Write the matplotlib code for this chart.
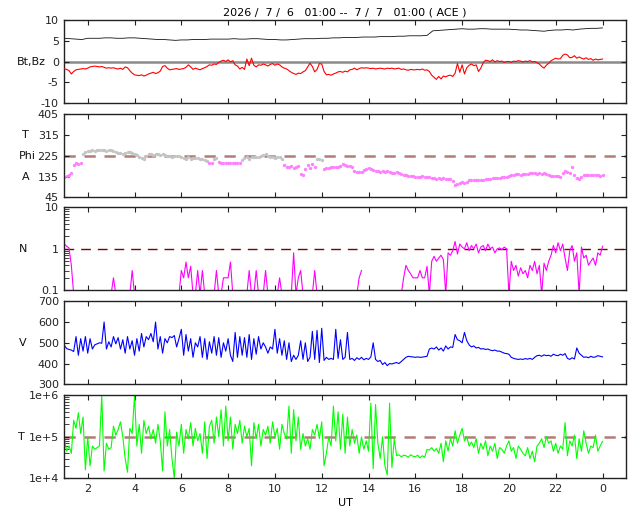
import matplotlib
matplotlib.use("Agg")
import matplotlib.pyplot as plt
import matplotlib.transforms as mtransforms
import numpy as np
from matplotlib.ticker import FixedLocator, FixedFormatter, LogLocator, NullFormatter

TITLE = "2026 /  7 /  6   01:00 --  7 /  7   01:00 ( ACE )"
T_START, T_END = 1.0, 24.0

# Bt (nT), every 0.25 h
BT = [5.6, 5.5, 5.4, 5.3, 5.6, 5.6, 5.6, 5.7, 5.7, 5.6, 5.6, 5.7, 5.7, 5.6, 5.5, 5.4,
      5.3, 5.3, 5.2, 5.1, 5.2, 5.2, 5.3, 5.3, 5.3, 5.4, 5.4, 5.4, 5.4, 5.5, 5.4, 5.4,
      5.5, 5.5, 5.4, 5.3, 5.3, 5.2, 5.2, 5.3, 5.4, 5.5, 5.5, 5.5, 5.6, 5.6, 5.7, 5.7,
      5.8, 5.8, 5.8, 5.9, 5.9, 5.9, 6.0, 6.0, 6.0, 6.1, 6.1, 6.2, 6.2, 6.2, 6.3, 7.4,
      7.5, 7.6, 7.7, 7.8, 7.9, 7.8, 7.8, 7.9, 7.9, 7.8, 7.8, 7.8, 7.8, 7.7, 7.6, 7.6,
      7.5, 7.4, 7.3, 7.5, 7.6, 7.6, 7.7, 7.6, 7.8, 7.9, 8.0, 8.0, 8.1]

# Bz (nT), every 0.1 h
BZ = [-1.8, -1.9, -2.2, -3.0, -2.4, -2.0, -1.9, -1.8, -1.7, -1.8,
      -1.6, -1.3, -1.2, -1.1, -1.2, -1.3, -1.2, -1.4, -1.6, -1.5,
      -1.6, -1.5, -1.7, -1.8, -1.6, -1.9, -1.3, -1.5, -2.2, -2.8,
      -3.2, -3.3, -3.4, -3.2, -3.5, -3.3, -3.0, -2.8, -2.6, -2.9,
      -2.7, -2.3, -1.2, -1.0, -1.6, -2.0, -1.9, -1.8, -1.7, -1.9,
      -1.8, -1.7, -1.4, -0.8, -1.3, -1.9, -1.6, -1.8, -2.0, -1.7,
      -1.5, -1.2, -0.8, -0.9, -0.6, -0.7, -0.2, 0.1, 0.3, 0.0,
      0.4, -0.1, 0.2, -0.8, -1.1, -1.8, -1.4, -1.9, 0.6, -1.0,
      0.8, -0.9, -1.3, -0.8, -0.9, -0.6, -0.8, -1.1, -0.7, -0.5,
      -0.9, -0.6, -0.8, -1.3, -1.6, -1.8, -2.2, -2.6, -2.9, -3.1,
      -2.8, -2.9, -2.5, -2.2, -1.3, -0.4, -1.2, -2.5, -1.9, -0.5,
      -0.6, -2.4, -3.2, -3.1, -3.3, -3.0, -2.8, -2.5, -2.4, -2.6,
      -2.3, -2.5, -2.0, -1.9, -1.6, -2.0, -1.7, -1.5, -1.6, -1.5,
      -1.6, -1.7, -1.6, -1.8, -1.7, -1.6, -1.7, -1.8, -1.6, -1.7,
      -1.6, -1.8, -1.7, -1.6, -1.9, -1.8, -2.0, -2.1, -1.9, -2.0,
      -2.0, -1.9, -2.0, -1.8, -2.1, -2.0, -2.4, -3.3, -3.8, -4.3,
      -3.6, -4.2, -3.5, -3.7, -3.4, -3.3, -3.6, -2.8, -0.5, -2.6,
      -0.8, -3.0, -1.5, -0.9, -0.6, -1.0, -0.8, -2.4, -1.6, -0.3,
      0.3, 0.2, 0.0, 0.4, -0.1, 0.2, 0.0, 0.1, -0.2, 0.0,
      0.0, -0.2, 0.1, 0.0, 0.2, 0.1, -0.1, 0.1, 0.0, 0.2,
      -0.1, 0.0, -0.3, -0.6, -1.2, -1.6, -0.9, -0.4, 0.2, 0.5,
      0.8, 0.6, 0.7, 1.5, 1.8, 1.6, 0.9, 1.0, 1.4, 0.8,
      1.1, 0.8, 0.6, 0.9, 0.5, 0.7, 0.3, 0.6, 0.4, 0.5,
      0.6]

# Phi angle (deg), every 0.1 h
PHI = [132, 136, 140, 150, 185, 195, 190, 193, 232, 243,
       246, 248, 250, 247, 249, 252, 250, 251, 248, 252,
       250, 247, 240, 236, 238, 233, 236, 240, 242, 238,
       232, 228, 222, 215, 213, 225, 232, 234, 230, 233,
       235, 230, 232, 228, 224, 226, 222, 225, 224, 226,
       220, 216, 213, 218, 212, 215, 214, 216, 212, 210,
       205, 203, 192, 194, 210, 215, 198, 195, 194, 193,
       195, 194, 192, 196, 193, 194, 205, 215, 218, 213,
       220, 218, 222, 218, 225, 230, 232, 226, 222, 218,
       215, 222, 220, 210, 185, 178, 176, 180, 174, 176,
       180, 148, 140, 170, 185, 172, 190, 178, 210, 212,
       206, 168, 172, 174, 177, 178, 175, 176, 180, 188,
       185, 180, 182, 178, 158, 155, 157, 156, 162, 170,
       172, 170, 165, 160, 158, 157, 160, 156, 158, 153,
       152, 151, 153, 150, 148, 144, 140, 138, 137, 136,
       134, 135, 133, 136, 134, 132, 133, 130, 128, 126,
       127, 126, 128, 125, 124, 126, 115, 100, 104, 107,
       110, 106, 112, 118, 120, 118, 121, 120, 122, 120,
       123, 124, 125, 127, 128, 130, 129, 132, 131, 134,
       136, 140, 143, 145, 146, 144, 147, 145, 148, 150,
       149, 150, 148, 151, 147, 150, 146, 140, 138, 136,
       137, 136, 135, 150, 158, 155, 150, 175, 140, 128,
       126, 132, 140, 142, 143, 141, 144, 142, 140, 138,
       141]
PHI_SPLIT = 200

nan = float("nan")
# Density (/cc), every 0.1 h
DENS = [1.3, 1.15, 1.05, 0.4, 0.08, 0.08, 0.08, 0.08, 0.08, 0.08,
        0.08, 0.08, 0.08, 0.08, 0.08, 0.08, 0.08, 0.08, 0.08, 0.08,
        0.08, 0.2, 0.08, 0.08, 0.08, 0.08, 0.08, 0.08, 0.08, 0.3,
        0.08, 0.08, 0.08, 0.08, 0.08, 0.08, 0.08, 0.08, 0.08, 0.08,
        0.08, 0.08, 0.08, 0.08, 0.08, 0.08, 0.08, 0.08, 0.08, 0.08,
        0.3, 0.2, 0.48, 0.2, 0.38, 0.08, 0.08, 0.3, 0.08, 0.3,
        0.08, 0.08, 0.08, 0.08, 0.08, 0.3, 0.08, 0.08, 0.2, 0.2,
        0.2, 0.48, 0.08, 0.08, 0.08, 0.08, 0.08, 0.08, 0.08, 0.3,
        0.08, 0.08, 0.3, 0.08, 0.08, 0.08, 0.3, 0.08, 0.08, 0.08,
        0.08, 0.08, 0.2, 0.08, 0.08, 0.08, 0.08, 0.08, 0.8, 0.08,
        0.2, 0.3, 0.08, 0.08, 0.08, 0.08, 0.08, 0.3, 0.08, 0.08,
        0.08, 0.08, 0.08, 0.08, 0.08, 0.08, 0.08, 0.08, 0.08, 0.08,
        0.08, 0.08, 0.08, 0.08, 0.08, 0.08, 0.2, 0.3, nan, nan,
        nan, nan, nan, nan, nan, nan, nan, nan, nan, nan,
        nan, nan, nan, nan, 0.08, 0.2, 0.4, 0.3, 0.25, 0.2,
        0.2, 0.2, 0.3, 0.2, 0.2, 0.38, 0.08, 0.5, 0.66, 0.5,
        0.6, 0.7, 0.55, 0.08, 0.8, 0.7, 0.9, 1.5, 0.75, 1.3,
        1.1, 1.0, 1.4, 0.9, 1.2, 1.0, 1.3, 0.8, 1.1, 1.2,
        0.9, 1.3, 1.0, 1.1, 0.8, 1.0, 1.05, 0.95, 1.1, 1.0,
        0.08, 0.5, 0.3, 0.4, 0.22, 0.35, 0.25, 0.3, 0.2, 0.4,
        0.3, 0.5, 0.25, 0.4, 0.08, 0.45, 0.3, 0.5, 0.7, 1.2,
        0.8, 1.4, 0.9, 1.3, 0.6, 0.3, 0.9, 1.2, 0.5, 0.8,
        0.08, 1.1, 0.6, 0.7, 0.4, 0.5, 0.6, 0.4, 0.8, 0.7,
        1.15]

# Speed (km/s), every 0.1 h
SPEED = [488, 472, 468, 465, 458, 530, 440, 520, 460, 530,
         450, 520, 470, 490, 495, 500, 498, 600, 470, 505,
         480, 530, 495, 525, 470, 515, 450, 530, 470, 510,
         440, 520, 460, 545, 480, 530, 515, 545, 505, 600,
         470, 530, 450, 520, 500, 530, 525, 535, 480, 520,
         565, 440, 540, 460, 520, 430, 500, 480, 530, 430,
         520, 420, 505, 450, 530, 440, 525, 430, 500, 460,
         520, 440, 410, 550, 430, 530, 440, 525, 430, 540,
         420, 520, 445, 530, 470, 500, 480, 450, 480, 470,
         565, 450, 520, 440, 510, 420, 500, 410, 440, 420,
         440, 510, 420, 500, 410, 430, 555, 420, 560, 405,
         570, 415, 430, 420, 425, 420, 565, 425, 515, 420,
         430, 550, 420, 425, 415, 428, 420, 430, 418, 425,
         420, 432, 500, 420, 410, 415, 395, 405, 390, 400,
         398, 402, 405, 400, 410, 420, 430, 435, 433, 432,
         430, 432, 430, 431, 433, 435, 470, 475, 470, 480,
         465, 475, 460, 485, 470, 480, 478, 540, 515, 510,
         500, 550, 510, 490, 480, 485, 475, 478, 470, 472,
         468, 470, 465, 462, 465, 460, 460, 455, 450, 448,
         445, 430, 425, 422, 420, 422, 420, 424, 421, 425,
         420, 430, 438, 440, 435, 442, 438, 440, 435, 445,
         440, 438, 445, 440, 448, 425, 420, 428, 422, 475,
         450, 440, 430, 432, 428, 435, 430, 432, 438, 435,
         432]

# Temperature (10^3 K), every 0.1 h
TEMP_K = [90, 45, 60, 40, 250, 160, 380, 120, 300, 16,
          100, 20, 60, 50, 55, 60, 1000, 15, 70, 50,
          55, 180, 110, 150, 230, 100, 30, 14, 160, 120,
          1000, 60, 200, 40, 250, 120, 180, 90, 150, 70,
          200, 80, 15, 400, 60, 150, 30, 10, 130, 60,
          200, 40, 150, 90, 220, 60, 160, 80, 120, 40,
          230, 30, 180, 250, 70, 300, 100, 450, 60, 550,
          80, 300, 50, 200, 120, 250, 70, 180, 100, 160,
          20, 220, 90, 200, 60, 150, 110, 180, 70, 230,
          100, 160, 50, 200, 120, 90, 550, 40, 450, 80,
          300, 50, 120, 60, 90, 50, 150, 110, 200, 90,
          230, 20, 40, 100, 60, 550, 80, 400, 50, 350,
          40, 300, 60, 150, 70, 110, 40, 100, 50, 80,
          45, 650, 17, 600, 70, 30, 100, 20, 12, 650,
          18, 90, 35, 37, 33, 36, 35, 32, 37, 34,
          33, 36, 31, 35, 32, 50, 48, 55, 45, 52,
          40, 70, 25, 80, 45, 90, 60, 140, 70, 110,
          160, 80, 100, 60, 75, 55, 90, 40, 70, 50,
          80, 35, 60, 45, 70, 30, 55, 50, 40, 60,
          80, 45, 55, 30, 60, 50, 40, 35, 55, 30,
          45, 25, 60, 70, 90, 55, 100, 70, 80, 45,
          70, 40, 60, 50, 220, 35, 80, 60, 110, 30,
          90, 45, 140, 70, 40, 60, 55, 110, 45, 60,
          78]

X_TICKS = list(range(2, 25, 2))
X_LABELS = [str(h % 24) for h in X_TICKS]

DASH_COLOR = "#b47a78"
FRAME = "#222222"


def hours(values):
    return np.linspace(T_START, T_END, len(values))


def style_axes(ax, log=False):
    ax.set_xlim(1, 25)
    ax.set_xticks(X_TICKS)
    ax.set_xticklabels(X_LABELS)
    ax.tick_params(which="both", direction="in", top=True, right=True,
                   labelbottom=False, labelsize=8, length=3.5, width=0.8,
                   colors=FRAME, labelcolor="#222222", pad=4)
    if log:
        ax.yaxis.set_minor_locator(LogLocator(base=10, subs=np.arange(2, 10)))
        ax.yaxis.set_minor_formatter(NullFormatter())
        ax.tick_params(which="minor", right=False, length=3.5, width=0.6)
    for sp in ax.spines.values():
        sp.set_color(FRAME)
        sp.set_linewidth(1.0)


def side_label(ax, x_frac, y_val, text):
    trans = mtransforms.blended_transform_factory(ax.transAxes, ax.transData)
    ax.text(x_frac, y_val, text, transform=trans, ha="center", va="center",
            fontsize=8, color="#111111")


def set_yticks(ax, ticks, labels):
    ax.yaxis.set_major_locator(FixedLocator(ticks))
    ax.yaxis.set_major_formatter(FixedFormatter(labels))


fig = plt.figure(figsize=(6.4, 5.12), dpi=100)
left, width, height = 0.1005, 0.8775, 0.1621
bottoms = [0.7988, 0.6146, 0.4330, 0.2494, 0.0658]
axes = [fig.add_axes([left, b, width, height]) for b in bottoms]
ax_b, ax_phi, ax_n, ax_v, ax_t = axes

# magnetic field
ax_b.axhline(0, color="#8a8a8a", lw=1.8, zorder=1)
ax_b.plot(hours(BT), BT, color="#111111", lw=0.6, zorder=2)
ax_b.plot(hours(BZ), BZ, color="red", lw=0.8, zorder=3)
ax_b.set_ylim(-10, 10)
style_axes(ax_b)
set_yticks(ax_b, [-10, -5, 0, 5, 10], ["-10", "-5", "0", "5", "10"])
side_label(ax_b, -0.058, 0, "Bt,Bz")
ax_b.set_title(TITLE, fontsize=8, pad=3)

# phi angle
phi = np.array(PHI, dtype=float)
t_phi = hours(PHI)
phi_hi = np.where(phi >= PHI_SPLIT, phi, np.nan)
phi_lo = np.where(phi < PHI_SPLIT, phi, np.nan)
ax_phi.axhline(225, color=DASH_COLOR, lw=1.8, dashes=(4.5, 3.5), zorder=1)
ax_phi.plot(t_phi, phi_hi, ls="none", marker="o", ms=2.4, mew=0, color="#c4c4c4", zorder=2)
ax_phi.plot(t_phi, phi_lo, ls="none", marker="o", ms=2.4, mew=0, color="#ff80ff", zorder=2)
ax_phi.set_ylim(45, 405)
style_axes(ax_phi)
set_yticks(ax_phi, [45, 135, 225, 315, 405], ["45", "135", "225", "315", "405"])
side_label(ax_phi, -0.07, 315, "T")
side_label(ax_phi, -0.066, 225, "Phi")
side_label(ax_phi, -0.068, 135, "A")

# density
ax_n.set_yscale("log")
ax_n.axhline(1, color="#800000", lw=1.0, dashes=(7, 5), zorder=1)
ax_n.plot(hours(DENS), DENS, color="#ff00ff", lw=0.8, zorder=2)
ax_n.set_ylim(0.1, 10)
style_axes(ax_n, log=True)
set_yticks(ax_n, [0.1, 1, 10], ["0.1", "1", "10"])
side_label(ax_n, -0.073, 1, "N")

# speed
ax_v.plot(hours(SPEED), SPEED, color="#0000ff", lw=0.8)
ax_v.set_ylim(300, 700)
style_axes(ax_v)
set_yticks(ax_v, [300, 400, 500, 600, 700], ["300", "400", "500", "600", "700"])
side_label(ax_v, -0.074, 500, "V")

# temperature
temp = np.array(TEMP_K, dtype=float) * 1e3
ax_t.set_yscale("log")
ax_t.axhline(1e5, color=DASH_COLOR, lw=1.8, dashes=(4.5, 3.5), zorder=1)
ax_t.plot(hours(TEMP_K), temp, color="#00ff00", lw=0.8, zorder=2)
ax_t.set_ylim(1e4, 1e6)
style_axes(ax_t, log=True)
set_yticks(ax_t, [1e4, 1e5, 1e6], ["1e+4", "1e+5", "1e+6"])
side_label(ax_t, -0.076, 1e5, "T")
ax_t.tick_params(axis="x", labelbottom=True)
ax_t.set_xlabel("UT", fontsize=8, labelpad=3)

fig.savefig("out.png", dpi=100)
